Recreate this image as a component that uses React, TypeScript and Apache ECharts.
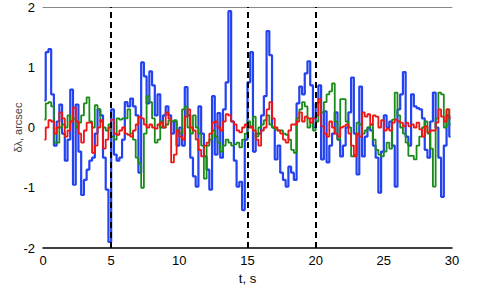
import React, { useEffect, useRef } from "react";
import * as echarts from "echarts";

const T0 = 0.1;
const DT = 0.2;

const blue = [
  0.45, 1.25, 1.3, 0.55, -0.3,
  0.1, 0.38, -0.1, -0.55, -0.2,
  0.63, -0.95, 0.38, -0.4, -1.12,
  -0.87, -0.7, -0.55, -0.5, -0.1,
  0.3, 0.2, -0.5, -1.03, -1.9,
  0.3, -0.45, -0.55, -0.5, -0.2,
  0.42, 0.35, 0.48, 0.35, 0.2,
  -0.75, 1.08, 0.85, 0.4, 0.93,
  0.7, 0.2, 0.55, 0.0, 0.2,
  0.35, 0.2, -0.1, 0.1, -0.3,
  0.0, -0.3, 0.67, 0.2, -0.5,
  -0.81, -0.98, 0.35, -0.1, -0.48,
  -0.7, -1.03, 0.52, -0.45, 0.24,
  -0.5, 0.3, 0.75, 1.93, 0.1,
  -0.55, -0.98, -0.9, -1.37, -0.2,
  0.75, 1.25, -0.4, -0.1, -0.1,
  0.2, 0.52, 1.6, 1.2, 0.0,
  -0.53, -0.3, -0.75, -0.87, -0.98,
  -0.65, -0.75, -0.87, 0.4, 0.68,
  0.55, 0.9, 1.1, 0.7, 0.0,
  0.4, 0.7, -0.53, 0.27, -0.58,
  -0.3, -0.1, 0.25, -0.2, -0.48,
  -0.3, 0.0, 0.25, 0.83, -0.1,
  -0.78, 0.68, -0.48, -0.15, 0.0,
  -0.05, -0.3, -0.5, -1.08, -0.4,
  0.2, 0.0, 0.1, -0.3, -0.98,
  0.3, 0.55, 0.92, -0.15, -0.3,
  0.55, 0.35, 0.32, 0.3, 0.15,
  -0.37, -0.5, 0.1, 0.58, 0.0,
  -0.5, -1.15, -0.3, 0.2, -0.15,
];

const green = [
  0.13, 0.4, 0.42, 0.35, -0.25,
  -0.25, 0.0, 0.05, 0.0, 0.2,
  0.1, 0.15, 0.0, 0.08, 0.2,
  0.4, 0.5, 0.1, 0.0, 0.37,
  0.3, 0.1, 0.0, -0.05, 0.05,
  -0.15, -0.2, 0.15, 0.13, 0.15,
  0.15, 0.3, -0.1, -0.2, -0.5,
  -0.6, -1.0, -0.1, 0.52, 0.42,
  0.15, -0.25, -0.2, 0.1, 0.0,
  0.05, 0.12, 0.1, 0.12, -0.05,
  -0.1, 0.3, 0.35, 0.0, -0.1,
  0.2, 0.0, -0.1, -0.3, -0.85,
  -0.3, -0.2, -0.05, -0.15, -0.25,
  -0.4, -0.3, -0.2, -0.25, -0.3,
  -0.28, -0.25, -0.33, -0.2, -0.1,
  0.1, 0.0, 0.18, -0.15, 0.0,
  0.05, 0.12, 0.2, 0.05, 0.0,
  -0.03, -0.05, -0.05, -0.1, -0.12,
  -0.2, -0.37, -0.42, 0.15, 0.3,
  0.42, 0.35, 0.0, 0.15, -0.05,
  0.1, 0.42, 0.25, 0.42, 0.55,
  0.6, 0.73, 0.1, -0.2, 0.47,
  0.47, 0.1, 0.0, -0.48, -0.45,
  0.08, 0.05, -0.1, -0.05, 0.0,
  0.05, -0.2, -0.37, -0.45, -0.48,
  -0.4, -0.25, -0.35, 0.13, 0.58,
  0.2, 0.0, -0.1, -0.25, -0.47,
  -0.47, -0.53, -0.3, -0.15, 0.0,
  0.1, -0.1, -0.35, -0.98, 0.15,
  0.58, 0.55, 0.0, 0.3, 0.05,
];

const red = [
  -0.2, 0.0, 0.12, 0.1, -0.1,
  0.0, 0.25, 0.15, -0.15, -0.05,
  0.1, 0.33, 0.1, -0.1, -0.25,
  -0.05, 0.08, 0.08, -0.42, -0.3,
  0.0, 0.12, -0.35, -0.2, 0.0,
  0.13, -0.1, -0.12, -0.05, 0.0,
  -0.1, -0.12, -0.15, -0.05, 0.05,
  0.18, 0.15, 0.05, 0.0, 0.05,
  0.0, -0.02, 0.05, 0.08, 0.0,
  0.25, 0.15, -0.58, -0.45, -0.05,
  -0.15, -0.2, 0.18, 0.3, 0.0,
  -0.05, -0.2, -0.37, -0.48, -0.3,
  -0.25, -0.1, 0.08, 0.1, 0.0,
  -0.05, 0.1, 0.22, 0.2, 0.1,
  0.05, -0.05, -0.08, 0.0, 0.05,
  0.0, 0.02, -0.05, -0.2, -0.3,
  -0.05, 0.0, 0.3, 0.42, 0.15,
  0.0, -0.05, -0.1, -0.2, -0.25,
  -0.05, 0.05, 0.05, 0.1, 0.25,
  0.1, 0.18, 0.15, 0.08, 0.15,
  0.2, 0.47, 0.02, -0.1, -0.15,
  0.1, 0.0, -0.1, -0.15, 0.0,
  0.02, 0.05, -0.1, -0.3, -0.48,
  -0.1, -0.15, 0.25, 0.18, 0.22,
  0.05, 0.2, 0.18, 0.0, 0.12,
  -0.05, -0.02, -0.05, 0.08, 0.13,
  0.1, 0.08, 0.02, 0.08, 0.02,
  0.05, 0.0, 0.08, -0.03, -0.15,
  0.02, -0.08, -0.05, -0.05, 0.08,
  0.3, 0.18, 0.1, 0.3, 0.15,
];

const eventTimes = [5, 15, 20];
const xTicks = [0, 5, 10, 15, 20, 25, 30];
const yTicks = [-2, -1, 0, 1, 2];

const toPairs = (vals: number[]) =>
  vals.map((v, i) => [Number((T0 + DT * i).toFixed(2)), v]);

const FONT = "Liberation Sans";

export default function App() {
  const ref = useRef<HTMLDivElement>(null);
  useEffect(() => {
    if (!ref.current) return;
    const chart = echarts.init(ref.current, undefined, { renderer: "svg" });
    chart.setOption({
      animation: false,
      backgroundColor: "#ffffff",
      grid: {
        left: 43,
        right: 27,
        top: 7,
        bottom: 51,
        containLabel: false,
        outerBoundsMode: "none",
      },
      xAxis: [
        {
          type: "value",
          min: xTicks[0],
          max: xTicks[xTicks.length - 1],
          interval: 5,
          position: "bottom",
          name: "t, s",
          nameLocation: "middle",
          nameGap: 21,
          nameTextStyle: { color: "#000", fontSize: 13, fontFamily: FONT },
          axisLine: { show: true, onZero: false, lineStyle: { color: "#000", width: 1.5 } },
          axisTick: { show: false },
          splitLine: { show: false },
          axisLabel: { color: "#000", fontSize: 13, fontFamily: FONT, margin: 6 },
        },
        {
          type: "value",
          min: xTicks[0],
          max: xTicks[xTicks.length - 1],
          position: "top",
          axisLine: { show: true, onZero: false, lineStyle: { color: "#888", width: 1 } },
          axisTick: { show: false },
          axisLabel: { show: false },
          splitLine: { show: false },
        },
      ],
      yAxis: {
        type: "value",
        min: yTicks[0],
        max: yTicks[yTicks.length - 1],
        interval: 1,
        name: "δλ, arcsec",
        nameLocation: "middle",
        nameGap: 20,
        nameMoveOverlap: false,
        nameTextStyle: { color: "#444", fontSize: 11, fontFamily: FONT },
        axisLine: { show: false },
        axisTick: { show: false },
        splitLine: { show: false },
        axisLabel: { color: "#000", fontSize: 13, fontFamily: FONT, margin: 8 },
      },
      series: [
        {
          type: "line",
          step: "middle",
          data: toPairs(blue),
          showSymbol: false,
          lineStyle: { color: "#2342f0", width: 2.2 },
          z: 2,
          markLine: {
            silent: true,
            symbol: "none",
            label: { show: false },
            lineStyle: { color: "#000", width: 2, type: [6, 4] },
            data: eventTimes.map((t) => ({ xAxis: t })),
          },
        },
        {
          type: "line",
          step: "middle",
          data: toPairs(green),
          showSymbol: false,
          lineStyle: { color: "#1a8c1a", width: 1.8 },
          z: 3,
        },
        {
          type: "line",
          step: "middle",
          data: toPairs(red),
          showSymbol: false,
          lineStyle: { color: "#ee1515", width: 1.8 },
          z: 4,
        },
      ],
    });
    return () => chart.dispose();
  }, []);
  return (
    <div
      ref={ref}
      style={{ position: "absolute", left: 0, top: 0, width: 479, height: 299 }}
    />
  );
}
